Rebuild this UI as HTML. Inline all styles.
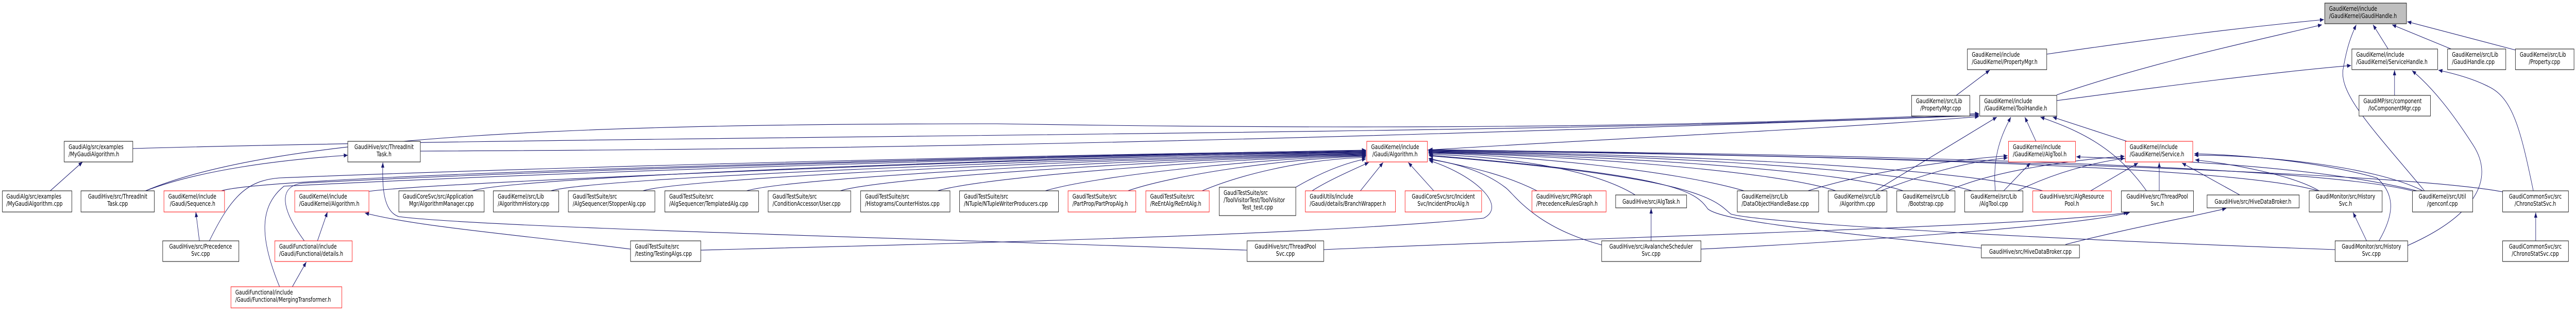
<!DOCTYPE html>
<html><head><meta charset="utf-8"><style>
html,body{margin:0;padding:0;background:#fff;width:100%;height:100%;overflow:hidden;}
svg{display:block;width:100vw;height:100vh;}
text{font-family:"DejaVu Sans","Liberation Sans",sans-serif;font-size:12px;fill:#000;}
.e{fill:none;stroke:#191970;stroke-width:1.1;marker-end:url(#a);}
.n{fill:#fff;stroke:#000;stroke-width:1;}
.r{fill:#fff;stroke:#ff0000;stroke-width:1;}
.g{fill:#bfbfbf;stroke:#000;stroke-width:1;}
</style></head><body>
<svg viewBox="0 0 6459 603" preserveAspectRatio="none" xmlns="http://www.w3.org/2000/svg">
<defs><marker id="a" markerUnits="userSpaceOnUse" markerWidth="11" markerHeight="8" refX="10" refY="4" orient="auto"><path d="M0,0 L10,4 L0,8 z" fill="#191970"/></marker></defs>
<g>
<path class="e" d="M126,370 L207,314"/>
<path class="e" d="M365,370 C500,330 700,310 872,301"/>
<path class="e" d="M333,288 C1500,262 4000,262 4962,222"/>
<path class="e" d="M365,370 C700,260 1500,240 2500,240 C3300,250 4200,250 4962,220"/>
<path class="e" d="M1054,293 C2000,290 3000,280 4962,224"/>
<path class="e" d="M3579,291 C4000,270 4600,250 4962,226"/>
<path class="e" d="M500,467 L491,411"/>
<path class="e" d="M796,467 L821,411"/>
<path class="e" d="M733,556 L768,508"/>
<path class="e" d="M1581,483 C1300,455 1050,440 915,413"/>
<path class="e" d="M555,370 C700,335 2800,300 3425,291"/>
<path class="e" d="M525,467 C580,380 620,350 700,345 C1500,320 2800,298 3425,292"/>
<path class="e" d="M763,467 C700,400 700,360 760,355 C1500,325 2800,300 3425,293"/>
<path class="e" d="M701,556 C650,460 650,400 712,361 C1500,330 2800,300 3425,294"/>
<path class="e" d="M925,371 C1100,352 2800,300 3425,295"/>
<path class="e" d="M1184,370 C1300,340 2800,300 3425,296"/>
<path class="e" d="M1381,370 C1500,342 2900,302 3425,297"/>
<path class="e" d="M1612,370 C1730,342 2950,303 3425,298"/>
<path class="e" d="M1872,370 C1990,342 3000,304 3425,299"/>
<path class="e" d="M2107,370 C2220,342 3050,305 3425,300"/>
<path class="e" d="M2351,370 C2470,342 3100,306 3425,301"/>
<path class="e" d="M2621,370 C2740,342 3150,307 3425,302"/>
<path class="e" d="M2828,370 C2930,342 3200,308 3425,303"/>
<path class="e" d="M3014,370 C3100,342 3250,310 3425,305"/>
<path class="e" d="M3249,363 C3300,340 3360,318 3425,308"/>
<path class="e" d="M3290,370 C3330,350 3390,330 3432,315"/>
<path class="e" d="M3411,370 L3468,315"/>
<path class="e" d="M3595,370 L3531,315"/>
<path class="e" d="M3854,370 C3750,330 3650,320 3582,307"/>
<path class="e" d="M4100,378 C4000,330 3800,305 3582,299"/>
<path class="e" d="M4373,370 C4200,330 3800,300 3582,297"/>
<path class="e" d="M4603,370 C4450,330 3900,300 3582,296"/>
<path class="e" d="M4772,370 C4600,325 3950,300 3582,295"/>
<path class="e" d="M4944,370 C4750,322 4000,298 3582,294"/>
<path class="e" d="M5122,370 C4900,320 4100,298 3582,293"/>
<path class="e" d="M5812,370 C5600,320 4500,300 3582,292"/>
<path class="e" d="M6048,370 C5800,320 4600,298 3582,291"/>
<path class="e" d="M6275,372 C6000,330 4500,300 3582,290"/>
<path class="e" d="M4016,475 C3850,440 3800,380 3777,365 C3720,330 3640,315 3583,309"/>
<path class="e" d="M1757,485 C2500,470 3300,455 3720,423 C3780,400 3700,340 3583,311"/>
<path class="e" d="M4968,481 C4600,450 4320,430 4282,405 C4250,370 4200,340 3583,301"/>
<path class="e" d="M5855,484 C5000,460 4400,430 4340,415 C4300,390 4280,345 3583,302"/>
<path class="e" d="M3126,485 C2200,460 1200,440 1000,420 C960,410 958,360 960,315"/>
<path class="e" d="M3319,484 C4000,460 5100,440 5335,412"/>
<path class="e" d="M4265,483 C4600,470 5200,440 5340,412"/>
<path class="e" d="M4140,467 L4140,404"/>
<path class="e" d="M5179,474 C5350,440 5500,420 5582,404"/>
<path class="e" d="M5934,467 L5900,412"/>
<path class="e" d="M5965,467 C6000,420 6010,380 5960,345 C5800,310 5600,300 5502,298"/>
<path class="e" d="M6075,370 C5950,320 5650,300 5502,301"/>
<path class="e" d="M5815,370 C5750,340 5600,318 5504,310"/>
<path class="e" d="M5616,378 L5471,316"/>
<path class="e" d="M5414,370 L5414,315"/>
<path class="e" d="M5242,370 L5361,316"/>
<path class="e" d="M4884,370 C5000,330 5200,310 5327,303"/>
<path class="e" d="M5059,370 C5150,335 5250,315 5327,307"/>
<path class="e" d="M5024,370 L5091,316"/>
<path class="e" d="M4533,370 C4700,330 4900,310 5034,302"/>
<path class="e" d="M4716,370 C4850,330 4950,312 5034,306"/>
<path class="e" d="M6060,370 C5800,320 5400,310 5206,304"/>
<path class="e" d="M4702,370 L5007,227"/>
<path class="e" d="M5003,370 C4995,300 5020,260 5042,227"/>
<path class="e" d="M5105,274 L5077,227"/>
<path class="e" d="M5382,370 C5300,280 5200,250 5116,227"/>
<path class="e" d="M5333,274 L5147,227"/>
<path class="e" d="M4905,185 L4989,136"/>
<path class="e" d="M5132,105 C5400,75 5600,55 5827,38"/>
<path class="e" d="M5157,184 C5400,120 5650,80 5822,48"/>
<path class="e" d="M5157,195 C5450,165 5700,140 5895,127"/>
<path class="e" d="M6004,185 L6004,136"/>
<path class="e" d="M5988,95 L5950,48"/>
<path class="e" d="M6146,95 L5998,48"/>
<path class="e" d="M6307,97 L6036,42"/>
<path class="e" d="M6079,370 C5950,250 5860,180 5876,130 C5885,90 5895,70 5908,48"/>
<path class="e" d="M6037,476 C6200,420 6260,350 6200,280 C6150,220 6100,170 6048,137"/>
<path class="e" d="M6352,370 C6320,250 6300,190 6240,168 C6200,152 6150,142 6114,136"/>
<path class="e" d="M6358,467 L6358,412"/>
</g>
<g>
<rect class="g" x="5829" y="6" width="205" height="40"/><text x="5840" y="21">GaudiKernel/include</text><text x="5840" y="35">/GaudiKernel/GaudiHandle.h</text>
<rect class="n" x="4933" y="95" width="199" height="40"/><text x="4944" y="110">GaudiKernel/include</text><text x="4944" y="124">/GaudiKernel/PropertyMgr.h</text>
<rect class="n" x="5897" y="95" width="215" height="40"/><text x="5908" y="110">GaudiKernel/include</text><text x="5908" y="124">/GaudiKernel/ServiceHandle.h</text>
<rect class="n" x="6137" y="95" width="146" height="40"/><text x="6148" y="110">GaudiKernel/src/Lib</text><text x="6148" y="124">/GaudiHandle.cpp</text>
<rect class="n" x="6307" y="95" width="147" height="40"/><text x="6318" y="110">GaudiKernel/src/Lib</text><text x="6380" y="124" text-anchor="middle">/Property.cpp</text>
<rect class="n" x="4793" y="185" width="146" height="40"/><text x="4804" y="200">GaudiKernel/src/Lib</text><text x="4866" y="214" text-anchor="middle">/PropertyMgr.cpp</text>
<rect class="n" x="4964" y="185" width="193" height="40"/><text x="4975" y="200">GaudiKernel/include</text><text x="4975" y="214">/GaudiKernel/ToolHandle.h</text>
<rect class="n" x="5915" y="185" width="179" height="40"/><text x="5926" y="200">GaudiMP/src/component</text><text x="6004" y="214" text-anchor="middle">/IoComponentMgr.cpp</text>
<rect class="n" x="161" y="274" width="172" height="40"/><text x="172" y="289">GaudiAlg/src/examples</text><text x="172" y="303">/MyGaudiAlgorithm.h</text>
<rect class="n" x="872" y="274" width="182" height="40"/><text x="963" y="289" text-anchor="middle">GaudiHive/src/ThreadInit</text><text x="963" y="303" text-anchor="middle">Task.h</text>
<rect class="r" x="3427" y="274" width="152" height="40"/><text x="3438" y="289">GaudiKernel/include</text><text x="3441" y="303">/Gaudi/Algorithm.h</text>
<rect class="r" x="5036" y="274" width="168" height="40"/><text x="5047" y="289">GaudiKernel/include</text><text x="5047" y="303">/GaudiKernel/AlgTool.h</text>
<rect class="r" x="5329" y="274" width="169" height="40"/><text x="5340" y="289">GaudiKernel/include</text><text x="5340" y="303">/GaudiKernel/Service.h</text>

<rect class="n" x="6" y="370" width="174" height="41"/><text x="16" y="385">GaudiAlg/src/examples</text><text x="16" y="399">/MyGaudiAlgorithm.cpp</text>
<rect class="n" x="203" y="370" width="184" height="41"/><text x="295" y="385" text-anchor="middle">GaudiHive/src/ThreadInit</text><text x="295" y="399" text-anchor="middle">Task.cpp</text>
<rect class="r" x="411" y="370" width="152" height="41"/><text x="422" y="385">GaudiKernel/include</text><text x="426" y="399">/Gaudi/Sequence.h</text>
<rect class="r" x="739" y="370" width="186" height="41"/><text x="750" y="385">GaudiKernel/include</text><text x="750" y="399">/GaudiKernel/Algorithm.h</text>
<rect class="n" x="1000" y="370" width="214" height="41"/><text x="1010" y="385">GaudiCoreSvc/src/Application</text><text x="1107" y="399" text-anchor="middle">Mgr/AlgorithmManager.cpp</text>
<rect class="n" x="1237" y="370" width="164" height="41"/><text x="1248" y="385">GaudiKernel/src/Lib</text><text x="1248" y="399">/AlgorithmHistory.cpp</text>
<rect class="n" x="1425" y="370" width="217" height="41"/><text x="1436" y="385">GaudiTestSuite/src</text><text x="1436" y="399">/AlgSequencer/StopperAlg.cpp</text>
<rect class="n" x="1667" y="370" width="235" height="41"/><text x="1678" y="385">GaudiTestSuite/src</text><text x="1678" y="399">/AlgSequencer/TemplatedAlg.cpp</text>
<rect class="n" x="1926" y="370" width="207" height="41"/><text x="1937" y="385">GaudiTestSuite/src</text><text x="1937" y="399">/ConditionAccessor/User.cpp</text>
<rect class="n" x="2158" y="370" width="224" height="41"/><text x="2169" y="385">GaudiTestSuite/src</text><text x="2169" y="399">/Histograms/CounterHistos.cpp</text>
<rect class="n" x="2406" y="370" width="248" height="41"/><text x="2417" y="385">GaudiTestSuite/src</text><text x="2417" y="399">/NTuple/NTupleWriterProducers.cpp</text>
<rect class="r" x="2678" y="370" width="170" height="41"/><text x="2689" y="385">GaudiTestSuite/src</text><text x="2689" y="399">/PartProp/PartPropAlg.h</text>
<rect class="r" x="2873" y="370" width="159" height="41"/><text x="2884" y="385">GaudiTestSuite/src</text><text x="2884" y="399">/ReEntAlg/ReEntAlg.h</text>
<rect class="n" x="3057" y="363" width="192" height="55"/><text x="3068" y="378">GaudiTestSuite/src</text><text x="3068" y="392">/ToolVisitorTest/ToolVisitor</text><text x="3153" y="406" text-anchor="middle">Test_test.cpp</text>
<rect class="r" x="3273" y="370" width="226" height="41"/><text x="3284" y="385">GaudiUtils/include</text><text x="3284" y="399">/Gaudi/details/BranchWrapper.h</text>
<rect class="r" x="3523" y="370" width="192" height="41"/><text x="3619" y="385" text-anchor="middle">GaudiCoreSvc/src/Incident</text><text x="3619" y="399" text-anchor="middle">Svc/IncidentProcAlg.h</text>
<rect class="r" x="3841" y="370" width="186" height="41"/><text x="3852" y="385">GaudiHive/src/PRGraph</text><text x="3852" y="399">/PrecedenceRulesGraph.h</text>
<rect class="n" x="4051" y="378" width="178" height="25"/><text x="4140" y="395" text-anchor="middle">GaudiHive/src/AlgTask.h</text>
<rect class="n" x="4356" y="370" width="204" height="41"/><text x="4367" y="385">GaudiKernel/src/Lib</text><text x="4367" y="399">/DataObjectHandleBase.cpp</text>
<rect class="n" x="4584" y="370" width="147" height="41"/><text x="4657" y="385" text-anchor="middle">GaudiKernel/src/Lib</text><text x="4657" y="399" text-anchor="middle">/Algorithm.cpp</text>
<rect class="n" x="4756" y="370" width="146" height="41"/><text x="4829" y="385" text-anchor="middle">GaudiKernel/src/Lib</text><text x="4829" y="399" text-anchor="middle">/Bootstrap.cpp</text>
<rect class="n" x="4926" y="370" width="146" height="41"/><text x="4999" y="385" text-anchor="middle">GaudiKernel/src/Lib</text><text x="4999" y="399" text-anchor="middle">/AlgTool.cpp</text>
<rect class="r" x="5097" y="370" width="197" height="41"/><text x="5195" y="385" text-anchor="middle">GaudiHive/src/AlgResource</text><text x="5195" y="399" text-anchor="middle">Pool.h</text>
<rect class="n" x="5319" y="370" width="181" height="41"/><text x="5409" y="385" text-anchor="middle">GaudiHive/src/ThreadPool</text><text x="5409" y="399" text-anchor="middle">Svc.h</text>
<rect class="n" x="5534" y="378" width="231" height="25"/><text x="5649" y="395" text-anchor="middle">GaudiHive/src/HiveDataBroker.h</text>
<rect class="n" x="5790" y="370" width="183" height="41"/><text x="5881" y="385" text-anchor="middle">GaudiMonitor/src/History</text><text x="5881" y="399" text-anchor="middle">Svc.h</text>
<rect class="n" x="6049" y="370" width="151" height="41"/><text x="6124" y="385" text-anchor="middle">GaudiKernel/src/Util</text><text x="6124" y="399" text-anchor="middle">/genconf.cpp</text>
<rect class="n" x="6275" y="370" width="165" height="41"/><text x="6357" y="385" text-anchor="middle">GaudiCommonSvc/src</text><text x="6357" y="399" text-anchor="middle">/ChronoStatSvc.h</text>

<rect class="n" x="408" y="467" width="191" height="40"/><text x="503" y="482" text-anchor="middle">GaudiHive/src/Precedence</text><text x="503" y="496" text-anchor="middle">Svc.cpp</text>
<rect class="r" x="689" y="467" width="194" height="40"/><text x="700" y="482">GaudiFunctional/include</text><text x="700" y="496">/Gaudi/Functional/details.h</text>
<rect class="n" x="1581" y="467" width="176" height="40"/><text x="1592" y="482">GaudiTestSuite/src</text><text x="1592" y="496">/testing/TestingAlgs.cpp</text>
<rect class="n" x="3127" y="467" width="192" height="40"/><text x="3223" y="482" text-anchor="middle">GaudiHive/src/ThreadPool</text><text x="3223" y="496" text-anchor="middle">Svc.cpp</text>
<rect class="n" x="4016" y="467" width="249" height="40"/><text x="4140" y="482" text-anchor="middle">GaudiHive/src/AvalancheScheduler</text><text x="4140" y="496" text-anchor="middle">Svc.cpp</text>
<rect class="n" x="4968" y="475" width="246" height="25"/><text x="5091" y="492" text-anchor="middle">GaudiHive/src/HiveDataBroker.cpp</text>
<rect class="n" x="5855" y="467" width="182" height="40"/><text x="5946" y="482" text-anchor="middle">GaudiMonitor/src/History</text><text x="5946" y="496" text-anchor="middle">Svc.cpp</text>
<rect class="n" x="6275" y="467" width="165" height="40"/><text x="6357" y="482" text-anchor="middle">GaudiCommonSvc/src</text><text x="6357" y="496" text-anchor="middle">/ChronoStatSvc.cpp</text>

<rect class="r" x="579" y="556" width="278" height="41"/><text x="590" y="571">GaudiFunctional/include</text><text x="590" y="585">/Gaudi/Functional/MergingTransformer.h</text>
</g>
</svg>
</body></html>
